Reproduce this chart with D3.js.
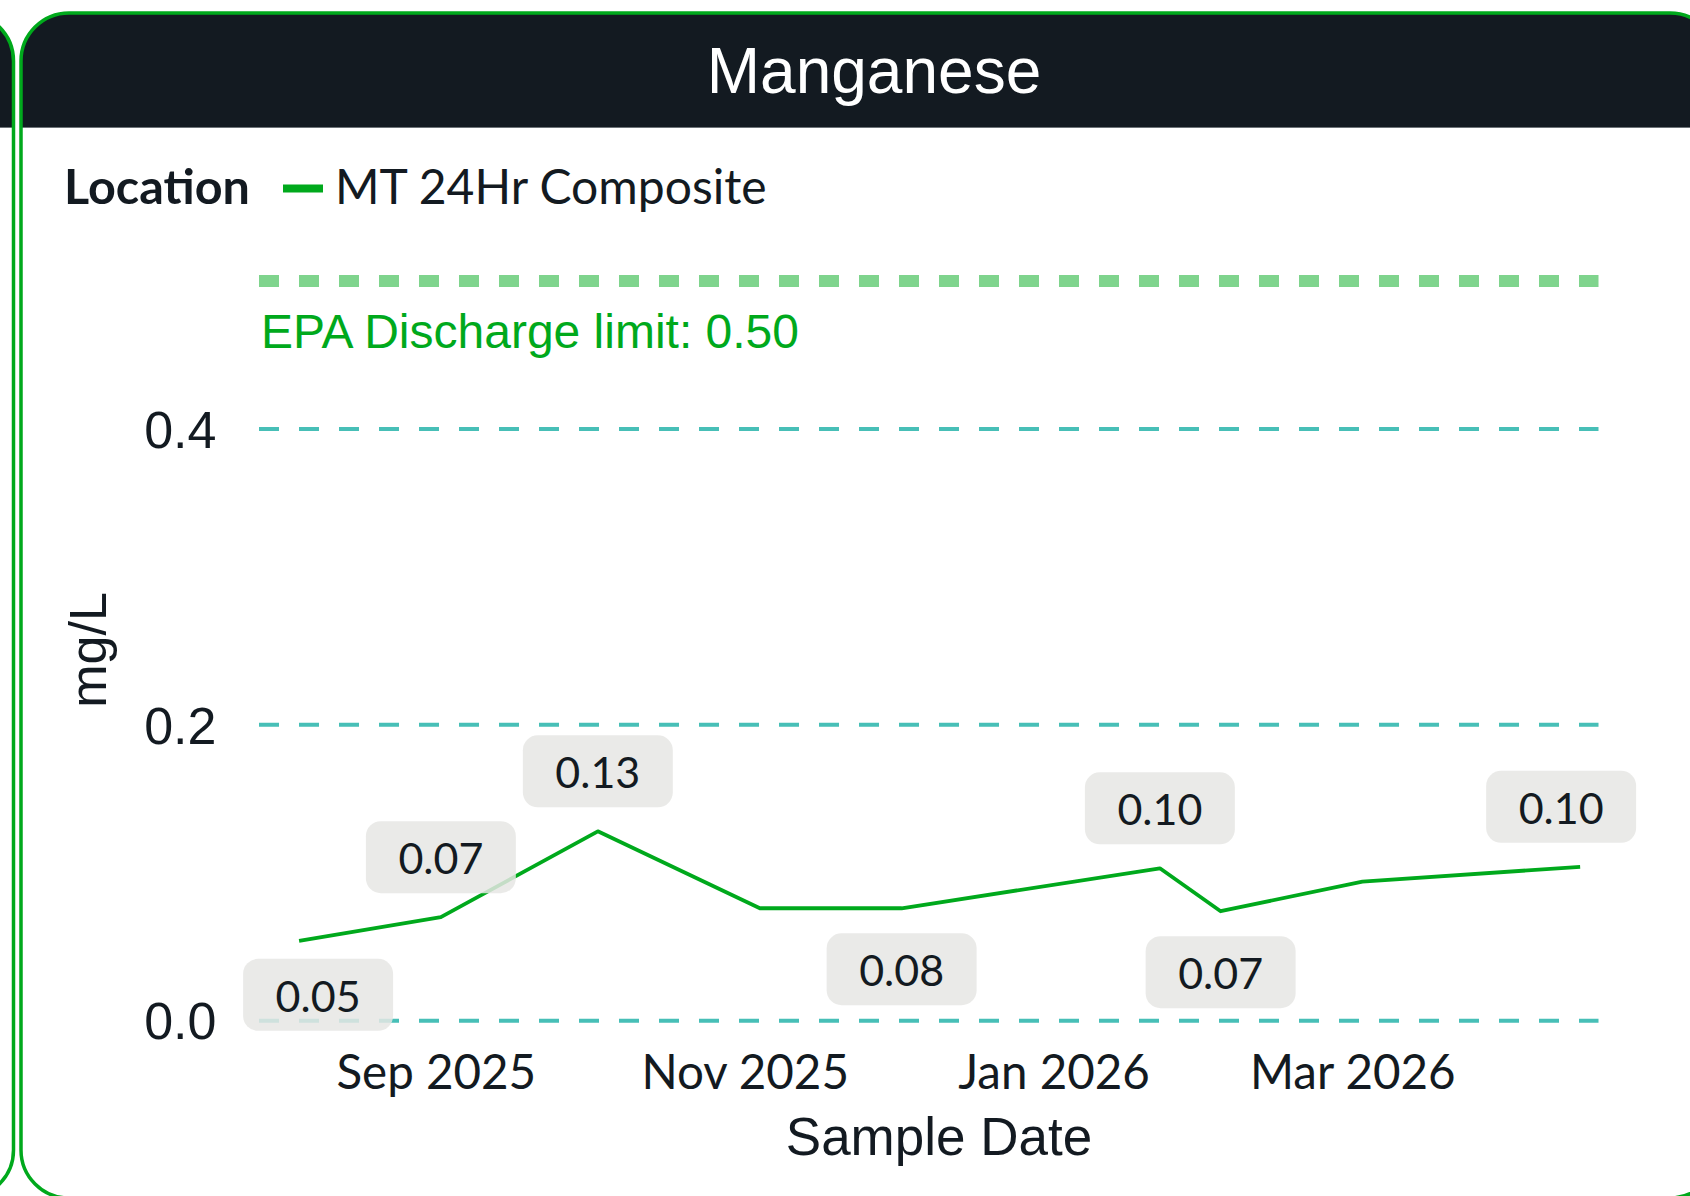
<!DOCTYPE html>
<html>
<head>
<meta charset="utf-8">
<script src="https://cdn.jsdelivr.net/npm/d3@7"></script>
<style>
  body { margin: 0; background: #fff; }
  svg { display: block; }
</style>
</head>
<body>
<div id="entry"></div>
<script>
// manganese samples, MT 24Hr Composite
var sampleDates = ['2025-08-05', '2025-09-02', '2025-10-03', '2025-11-04', '2025-12-02',
                   '2026-01-22', '2026-02-03', '2026-03-03', '2026-04-15'];
var mnValues = [0.054, 0.070, 0.128, 0.076, 0.076, 0.103, 0.074, 0.094, 0.104];
// where the value badge sits ('' = no badge)
var labelSide = ['below', 'above', 'above', '', 'below', 'above', 'below', '', 'above'];

var yTicks = [0, 0.2, 0.4];
var xTicks = ['2025-09-01', '2025-11-01', '2026-01-01', '2026-03-01'];
var xDomain = ['2025-07-28T02:00', '2026-04-18T15:00'];
var yDomain = [0, 0.5];

var epaLimit = 0.5;
var seriesName = 'MT 24Hr Composite';
var chartTitle = 'Manganese';

var W = 1690, H = 1196;
var green = '#00a91c', ink = '#131a21', teal = '#47bfb7';
var arial = '"Liberation Sans", Arial, sans-serif';
var lato = 'Lato, "Open Sans", sans-serif';

var parse = function(s) { return new Date(s + (s.length > 10 ? ':00Z' : 'T00:00:00Z')); };

var x = d3.scaleUtc().domain(xDomain.map(parse)).range([259, 1598.5]);
var y = d3.scaleLinear().domain(yDomain).range([1020.7, 281]);

var data = sampleDates.map(function(d, i) {
  return {date: parse(d), value: mnValues[i], side: labelSide[i]};
});

var svg = d3.select('#entry').append('svg')
  .attr('width', W)
  .attr('height', H);

var defs = svg.append('defs');

// card: white body, dark header, green rounded border
function card(left, id) {
  var pw = 1697, top = 13, ph = 1185, r = 48;
  defs.append('clipPath').attr('id', id)
    .append('rect')
    .attr('x', left).attr('y', top)
    .attr('width', pw).attr('height', ph)
    .attr('rx', r).attr('ry', r);

  var g = svg.append('g');
  g.append('rect')
    .attr('x', left).attr('y', top)
    .attr('width', pw).attr('height', ph)
    .attr('rx', r).attr('ry', r)
    .attr('fill', '#fff');
  g.append('rect')
    .attr('clip-path', 'url(#' + id + ')')
    .attr('x', left).attr('y', top)
    .attr('width', pw).attr('height', 114)
    .attr('fill', ink);
  g.append('line')
    .attr('clip-path', 'url(#' + id + ')')
    .attr('x1', left).attr('x2', left + pw)
    .attr('y1', 127.5).attr('y2', 127.5)
    .attr('stroke', '#6d7378').attr('stroke-width', 1);
  g.append('rect')
    .attr('x', left).attr('y', top)
    .attr('width', pw).attr('height', ph)
    .attr('rx', r).attr('ry', r)
    .attr('fill', 'none')
    .attr('stroke', green)
    .attr('stroke-width', 3.5);
}

card(13.5 - 1697, 'clipPrev');
card(21, 'clipMain');

svg.append('text')
  .attr('x', 874).attr('y', 93)
  .attr('text-anchor', 'middle')
  .attr('font-family', arial)
  .attr('font-size', 64)
  .attr('fill', '#fff')
  .text(chartTitle);

// legend
svg.append('text')
  .attr('x', 64).attr('y', 204)
  .attr('font-family', lato)
  .attr('font-weight', 'bold')
  .attr('font-size', 48.5)
  .attr('fill', ink)
  .text('Location');
svg.append('line')
  .attr('x1', 283).attr('x2', 323)
  .attr('y1', 188.5).attr('y2', 188.5)
  .attr('stroke', green)
  .attr('stroke-width', 8);
svg.append('text')
  .attr('x', 335).attr('y', 204)
  .attr('font-family', lato)
  .attr('font-size', 48)
  .attr('fill', ink)
  .text(seriesName);

// gridlines
svg.append('g')
  .selectAll('line')
  .data(yTicks)
  .enter()
  .append('line')
  .attr('x1', x.range()[0]).attr('x2', x.range()[1])
  .attr('y1', function(d) { return y(d); })
  .attr('y2', function(d) { return y(d); })
  .attr('stroke', teal)
  .attr('stroke-width', 4)
  .attr('stroke-dasharray', '20,20');

// EPA limit
svg.append('line')
  .attr('x1', x.range()[0]).attr('x2', x.range()[1])
  .attr('y1', y(epaLimit)).attr('y2', y(epaLimit))
  .attr('stroke', green)
  .attr('stroke-opacity', 0.5)
  .attr('stroke-width', 12)
  .attr('stroke-dasharray', '20,20');
svg.append('text')
  .attr('x', 261).attr('y', y(epaLimit) + 67)
  .attr('font-family', arial)
  .attr('font-size', 48)
  .attr('fill', green)
  .text('EPA Discharge limit: ' + epaLimit.toFixed(2));

// axes
var yAxis = d3.axisLeft(y)
  .tickValues(yTicks)
  .tickSize(0)
  .tickFormat(d3.format('.1f'));

var xAxis = d3.axisBottom(x)
  .tickValues(xTicks.map(parse))
  .tickSize(0)
  .tickFormat(d3.utcFormat('%b %Y'));

var gy = svg.append('g')
  .attr('transform', 'translate(' + x.range()[0] + ',0)')
  .call(yAxis);
gy.select('.domain').remove();
gy.selectAll('text')
  .attr('x', -42.5)
  .attr('dy', '0.35em')
  .attr('font-family', arial)
  .attr('font-size', 52)
  .attr('fill', ink);

var gx = svg.append('g')
  .attr('transform', 'translate(0,' + y(0) + ')')
  .call(xAxis);
gx.select('.domain').remove();
gx.selectAll('text')
  .attr('y', 68)
  .attr('dy', null)
  .attr('font-family', lato)
  .attr('font-size', 47.5)
  .attr('fill', ink);

svg.append('text')
  .attr('x', 939).attr('y', 1155)
  .attr('text-anchor', 'middle')
  .attr('font-family', arial)
  .attr('font-size', 53)
  .attr('fill', ink)
  .text('Sample Date');

svg.append('text')
  .attr('transform', 'translate(106,650) rotate(-90)')
  .attr('text-anchor', 'middle')
  .attr('font-family', arial)
  .attr('font-size', 52)
  .attr('fill', ink)
  .text('mg/L');

// the series
var line = d3.line()
  .x(function(d) { return x(d.date); })
  .y(function(d) { return y(d.value); });

svg.append('path')
  .datum(data)
  .attr('d', line)
  .attr('fill', 'none')
  .attr('stroke', green)
  .attr('stroke-width', 3.8)
  .attr('stroke-linejoin', 'round');

// value badges
var labelled = data.filter(function(d) { return d.side; });
var last = labelled.length - 1;

var badges = svg.append('g')
  .selectAll('g')
  .data(labelled)
  .enter()
  .append('g')
  .attr('transform', function(d, i) {
    var cx = x(d.date), cy = y(d.value);
    if (i === 0) cx += 19;
    if (i === last) cx -= 19;
    cy += d.side === 'above' ? -60 : (i === 0 ? 54 : 61);
    return 'translate(' + cx + ',' + cy + ')';
  });

badges.append('text')
  .attr('text-anchor', 'middle')
  .attr('y', 17)
  .attr('font-family', lato)
  .attr('font-size', 43)
  .attr('fill', ink)
  .text(function(d) { return d.value.toFixed(2); });

badges.insert('rect', 'text')
  .each(function() {
    var tw = this.parentNode.querySelector('text').getComputedTextLength();
    d3.select(this)
      .attr('x', -(tw / 2 + 32.5))
      .attr('width', tw + 65);
  })
  .attr('y', -36)
  .attr('height', 72)
  .attr('rx', 15).attr('ry', 15)
  .attr('fill', '#e6e6e4')
  .attr('fill-opacity', 0.85);
</script>
</body>
</html>
